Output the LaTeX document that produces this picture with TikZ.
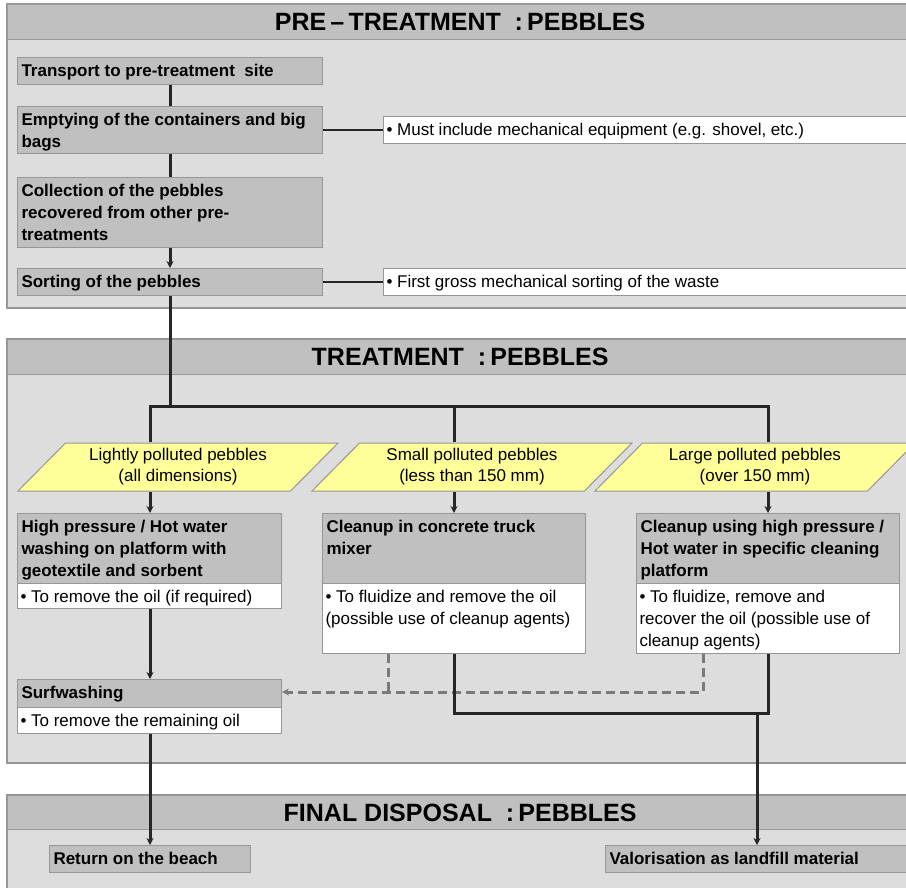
\documentclass[tikz,border=0pt]{standalone}
\usepackage{fontspec}
\setmainfont{Liberation Sans}
\usetikzlibrary{shapes.geometric,arrows.meta}

\definecolor{panelgray}{HTML}{DDDDDD}
\definecolor{bandgray}{HTML}{C0C0C0}
\definecolor{edgegray}{HTML}{969696}
\definecolor{kindyellow}{HTML}{FFFF99}
\definecolor{flowdark}{HTML}{262626}
\definecolor{dashgray}{HTML}{7A7A7A}

% text block held at the top of a box of fixed size
\newcommand{\topbox}[3]{\parbox[t][#1][t]{#2}{\raggedright\strut#3}}

\tikzset{
  panel/.style={fill=panelgray, draw=edgegray, line width=1.2pt},
  band/.style={fill=bandgray, draw=edgegray, line width=1.2pt, anchor=north west,
    minimum width=905pt, minimum height=35pt, inner sep=0pt,
    font=\fontsize{25}{30}\selectfont\bfseries},
  stepbox/.style={fill=bandgray, draw=edgegray, line width=1pt, anchor=north west,
    inner xsep=4pt, inner ysep=4pt, font=\fontsize{17}{22}\selectfont\bfseries},
  notebox/.style={fill=white, draw=edgegray, line width=1pt, anchor=north west,
    inner xsep=3pt, inner ysep=4pt, font=\fontsize{17}{22}\selectfont},
  kindbox/.style={trapezium, trapezium left angle=37.8, trapezium right angle=142.2,
    trapezium stretches body=true,
    fill=kindyellow, draw=edgegray, line width=1pt, minimum height=48pt,
    minimum width=320pt, inner sep=0pt, align=center,
    font=\fontsize{17}{21}\selectfont},
  flow/.style={draw=flowdark, line width=3pt},
  arrow/.style={flow, -{Stealth[length=7pt,width=7pt]}},
  dashflow/.style={draw=dashgray, line width=3pt, dash pattern=on 9pt off 5pt},
  tie/.style={draw=flowdark, line width=1.2pt},
}

\begin{document}
\begin{tikzpicture}[x=1pt, y=-1pt]

    \useasboundingbox (0,0) rectangle (906,888);
    \clip (0,0) rectangle (906,888);

    % Panels
    \draw[panel] (7,4) rectangle (912,308);
    \draw[panel] (7,339) rectangle (912,763);
    \draw[panel] (7,795) rectangle (912,895);

    \node[band] (pretitle) at (7,4) {PRE\,–\,TREATMENT\ \ :\,PEBBLES};
    \node[band] (treattitle) at (7,339) {TREATMENT\ \ :\,PEBBLES};
    \node[band, minimum height=34pt] (finaltitle) at (7,795) {FINAL DISPOSAL\ \ :\,PEBBLES};

    % Pre-treatment
    \node[stepbox] (trans) at (17,57) {\topbox{19pt}{297pt}{Transport to pre-treatment\ \ site}};
    \node[stepbox] (empty) at (17,106) {\topbox{39pt}{297pt}{Emptying of the containers and big\\bags}};
    \node[stepbox] (collect) at (17,177) {\topbox{62pt}{297pt}{Collection of the pebbles\\recovered from other pre-\\treatments}};
    \node[stepbox] (sort) at (17,268) {\topbox{19pt}{297pt}{Sorting of the pebbles}};

    \node[notebox] (must) at (383,116) {\topbox{19pt}{524pt}{• Must include mechanical equipment (e.g. shovel, etc.)}};
    \node[notebox] (gross) at (383,268) {\topbox{19pt}{524pt}{• First gross mechanical sorting of the waste}};

    % Treatment
    \node[kindbox] (kind1) at (178,467) {Lightly polluted pebbles\\(all dimensions)};
    \node[kindbox] (kind2) at (472,467) {Small polluted pebbles\\(less than 150 mm)};
    \node[kindbox] (kind3) at (755,467) {Large polluted pebbles\\(over 150 mm)};

    \node[stepbox] (wash) at (17,513) {\topbox{62pt}{256pt}{High pressure / Hot water\\washing on platform with\\geotextile and sorbent}};
    \node[notebox] (washnote) at (17,583) {\topbox{17pt}{258pt}{• To remove the oil (if required)}};
    \node[stepbox] (mixer) at (322,513) {\topbox{62pt}{255pt}{Cleanup in concrete truck\\mixer}};
    \node[notebox] (mixernote) at (322,583) {\topbox{62pt}{257pt}{• To fluidize and remove the oil\\(possible use of cleanup agents)}};
    \node[stepbox] (plat) at (636,513) {\topbox{62pt}{255pt}{Cleanup using high pressure /\\Hot water in specific cleaning\\platform}};
    \node[notebox] (platnote) at (636,583) {\topbox{62pt}{257pt}{• To fluidize, remove and\\recover the oil (possible use of\\cleanup agents)}};

    \node[stepbox] (surf) at (17,679) {\topbox{20pt}{256pt}{Surfwashing}};
    \node[notebox] (surfnote) at (17,707) {\topbox{18pt}{258pt}{• To remove the remaining oil}};

    % Final disposal
    \node[stepbox] (beach) at (49,845) {\topbox{19pt}{193pt}{Return on the beach}};
    \node[stepbox] (landfill) at (605,845) {\topbox{19pt}{302pt}{Valorisation as landfill material}};

    % Junctions
    \coordinate (fork) at (170,406);
    \coordinate (bus1) at (150,406);
    \coordinate (bus2) at (454,406);
    \coordinate (bus3) at (768,406);
    \coordinate (dropmix) at (388,692);
    \coordinate (dropplat) at (703,692);
    \coordinate (joinmix) at (454,713);
    \coordinate (joinplat) at (768,713);
    \coordinate (dropland) at (757,713);

    % Connectors
    \draw[flow] (trans) -- (empty);
    \draw[flow] (empty) -- (collect);
    \draw[arrow] (collect) -- (sort);
    \draw[tie] (empty) -- (must);
    \draw[tie] (sort) -- (gross);
    \draw[flow] (sort.south) -- (fork);

    \draw[flow] (kind1.north -| bus1) -- (bus1) -- (bus3) -- (kind3.north -| bus3);
    \draw[flow] (bus2) -- (kind2.north -| bus2);

    \draw[arrow] (kind1.south -| bus1) -- (wash.north -| bus1);
    \draw[arrow] (kind2.south -| bus2) -- (mixer.north -| bus2);
    \draw[arrow] (kind3.south -| bus3) -- (plat.north -| bus3);
    \draw[arrow] (washnote.south -| bus1) -- (surf.north -| bus1);

    \draw[dashflow] (mixernote.south -| dropmix) -- (dropmix);
    \draw[dashflow, -{Stealth[length=7pt,width=7pt]}] (platnote.south -| dropplat) -- (dropplat) -- (surf.east |- dropplat);

    \draw[flow] (mixernote.south -| joinmix) -- (joinmix) -- (joinplat) -- (platnote.south -| joinplat);
    \draw[arrow] (dropland) -- (landfill.north -| dropland);
    \draw[arrow] (surfnote.south -| bus1) -- (beach.north -| bus1);

\end{tikzpicture}
\end{document}
